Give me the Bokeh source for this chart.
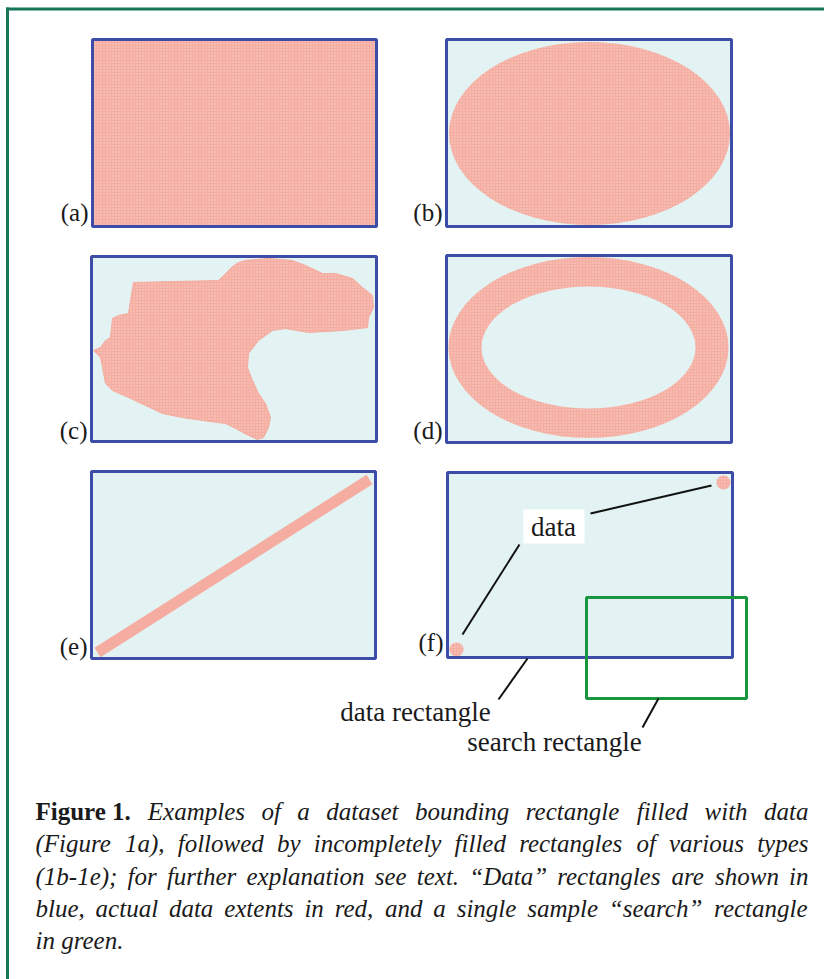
import numpy as np
from bokeh.plotting import figure
from bokeh.models import Range1d, ColumnDataSource
from bokeh.core.properties import value
from bokeh.embed import file_html
from bokeh.resources import INLINE

# ---------------- data (page pixel coordinates) ----------------
panel_labels = ["(a)", "(b)", "(c)", "(d)", "(e)", "(f)"]
panel_left = [92, 446, 91, 446, 91, 447]
panel_right = [376, 731, 376, 731, 375, 732]
panel_top = [39, 39, 256, 255, 471, 472]
panel_bottom = [226, 226, 441, 442, 658, 657]
label_y = [212, 212, 430, 430, 646, 642]

# (b) filled ellipse
ell_b_x, ell_b_y, ell_b_w, ell_b_h = [589], [133], [281], [183]
# (d) ring: outer and inner ellipse
ring_x, ring_y = [588], [347]
ring_outer_w, ring_outer_h = [280], [181]
ring_inner_w, ring_inner_h = [214], [122]

# (c) irregular data extent
blob_x = [133, 175, 218, 225, 232, 238, 245, 268, 292, 305, 322, 335, 352, 362,
          372, 373, 368, 367, 342, 308, 285, 272, 258, 248, 247, 252, 258, 265,
          270, 268, 263, 257, 248, 235, 225, 202, 182, 162, 145, 128, 112, 105,
          102, 100, 93, 100, 105, 110, 112, 118, 128, 130]
blob_y = [282, 281, 280, 273, 266, 262, 260, 258, 260, 265, 273, 273, 278, 287,
          295, 307, 317, 327, 330, 332, 328, 330, 340, 353, 367, 380, 393, 403,
          417, 427, 437, 439, 435, 428, 423, 420, 417, 413, 405, 397, 390, 383,
          367, 357, 350, 347, 340, 337, 318, 315, 313, 300]

# (e) diagonal band
band_x = [97, 369]
band_y = [652, 479]

# (f) two small data clusters
dot_x = [723, 456]
dot_y = [482, 649]

# search rectangle
search_left, search_right, search_top, search_bottom = [586], [746], [597], [698]

# leader lines
lead_x0 = [590, 519, 527, 658]
lead_y0 = [513, 544, 658, 698]
lead_x1 = [711, 462, 498, 642]
lead_y1 = [485, 634, 699, 727]

# annotations
ann_text = ["data", "data rectangle", "search rectangle"]
ann_x = [553, 415, 554]
ann_y = [526, 711, 741]

caption_bold = "Figure 1."
caption_lines = [
    "Examples of a dataset bounding rectangle filled with data",
    "(Figure 1a), followed by incompletely filled rectangles of various types",
    "(1b-1e); for further explanation see text. \u201cData\u201d rectangles are shown in",
    "blue, actual data extents in red, and a single sample \u201csearch\u201d rectangle",
    "in green.",
]
caption_y = [811, 843, 876, 908, 940]

# ---------------- styling ----------------
BLUE = "#3d4ca6"
PINK = "#f4ad a0".replace(" ", "")
CYAN = "#e3f2f2"
GREEN = "#17963f"
FRAME = "#16765a"
SERIF = value("Liberation Serif")

p = figure(width=824, height=979, x_range=Range1d(0, 824), y_range=Range1d(979, 0),
           output_backend="svg", toolbar_location=None, min_border=0,
           x_axis_type=None, y_axis_type=None, background_fill_color="white",
           border_fill_color="white", outline_line_color=None)
p.grid.visible = False

# outer frame (left and top)
p.segment(x0=[7, 5.5], y0=[7, 8.5], x1=[7, 824], y1=[979, 8.5], line_color=FRAME, line_width=3)

hatch = dict(hatch_pattern="dot", hatch_color="#fde4dd", hatch_scale=3, hatch_weight=1, hatch_alpha=0.7)

# panel backgrounds
fills = [PINK, CYAN, CYAN, CYAN, CYAN, CYAN]
p.quad(left=panel_left, right=panel_right, top=panel_top, bottom=panel_bottom,
       fill_color=fills, line_color=None)
p.quad(left=panel_left[:1], right=panel_right[:1], top=panel_top[:1], bottom=panel_bottom[:1],
       fill_color=PINK, line_color=None, **hatch)

# (b)
p.ellipse(x=ell_b_x, y=ell_b_y, width=ell_b_w, height=ell_b_h, fill_color=PINK, line_color=None, **hatch)
# (d)
p.ellipse(x=ring_x, y=ring_y, width=ring_outer_w, height=ring_outer_h, fill_color=PINK, line_color=None, **hatch)
p.ellipse(x=ring_x, y=ring_y, width=ring_inner_w, height=ring_inner_h, fill_color=CYAN, line_color=None)
# (c)
p.patch(x=blob_x, y=blob_y, fill_color=PINK, line_color=PINK, line_width=1, **hatch)
# (e)
p.line(x=band_x, y=band_y, line_color=PINK, line_width=11, line_cap="butt")
# (f)
p.circle(x=dot_x, y=dot_y, radius=7, fill_color=PINK, line_color=None, **hatch)

# panel outlines
p.quad(left=panel_left, right=panel_right, top=panel_top, bottom=panel_bottom,
       fill_color=None, line_color=BLUE, line_width=3)

# search rectangle
p.quad(left=search_left, right=search_right, top=search_top, bottom=search_bottom,
       fill_color=None, line_color=GREEN, line_width=3)

# leader lines
p.segment(x0=lead_x0, y0=lead_y0, x1=lead_x1, y1=lead_y1, line_color="#111111", line_width=2)

# white box behind "data"
p.quad(left=[523], right=[584], top=[509], bottom=[543], fill_color="white", line_color=None)

# panel labels
lab_x = [l - 4 for l in panel_left]
p.text(x=lab_x, y=label_y, text=panel_labels, text_font=SERIF, text_font_size="25px",
       text_align="right", text_baseline="middle", text_color="#1a1a1a")

p.text(x=ann_x, y=ann_y, text=ann_text, text_font=SERIF, text_font_size="27px",
       text_align="center", text_baseline="middle", text_color="#1a1a1a")

# ---------------- justified caption ----------------
TI = {" ": 250, "(": 333, ")": 333, ",": 250, "-": 333, ".": 250, ";": 333, ":": 333,
      "\u201c": 556, "\u201d": 556, "D": 722, "E": 611, "F": 611,
      "a": 500, "b": 500, "c": 444, "d": 500, "e": 444, "f": 278, "g": 500, "h": 500,
      "i": 278, "j": 278, "k": 444, "l": 278, "m": 722, "n": 500, "o": 500, "p": 500,
      "q": 500, "r": 389, "s": 389, "t": 278, "u": 500, "v": 444, "w": 667, "x": 444,
      "y": 444, "z": 389}
TB = {" ": 250, "F": 611, "i": 278, "g": 500, "u": 556, "r": 444, "e": 444, ".": 250}


def wid(word, table, fs):
    return sum(table.get(c, 500) for c in word) * fs / 1000.0


FS = 25
X0, X1 = 35, 808
it = dict(x=[], y=[], text=[])
bd = dict(x=[], y=[], text=[])
for i, line in enumerate(caption_lines):
    words = [(w, "i") for w in line.split(" ")]
    if i == 0:
        words = [(caption_bold, "b")] + words
    ws = [wid(w, TB if s == "b" else TI, FS) for w, s in words]
    if i < len(caption_lines) - 1:
        gap = (X1 - X0 - sum(ws)) / (len(words) - 1)
    else:
        gap = 250 * FS / 1000.0
    x = X0
    for (w, s), ww in zip(words, ws):
        d = bd if s == "b" else it
        d["x"].append(x)
        d["y"].append(caption_y[i])
        d["text"].append(w)
        x += ww + gap

p.text(x="x", y="y", text="text", source=ColumnDataSource(it), text_font=SERIF,
       text_font_style="italic", text_font_size=f"{FS}px", text_align="left",
       text_baseline="middle", text_color="#1a1a1a")
p.text(x="x", y="y", text="text", source=ColumnDataSource(bd), text_font=SERIF,
       text_font_style="bold", text_font_size=f"{FS}px", text_align="left",
       text_baseline="middle", text_color="#1a1a1a")

open("out.html", "w").write(file_html(p, INLINE))
